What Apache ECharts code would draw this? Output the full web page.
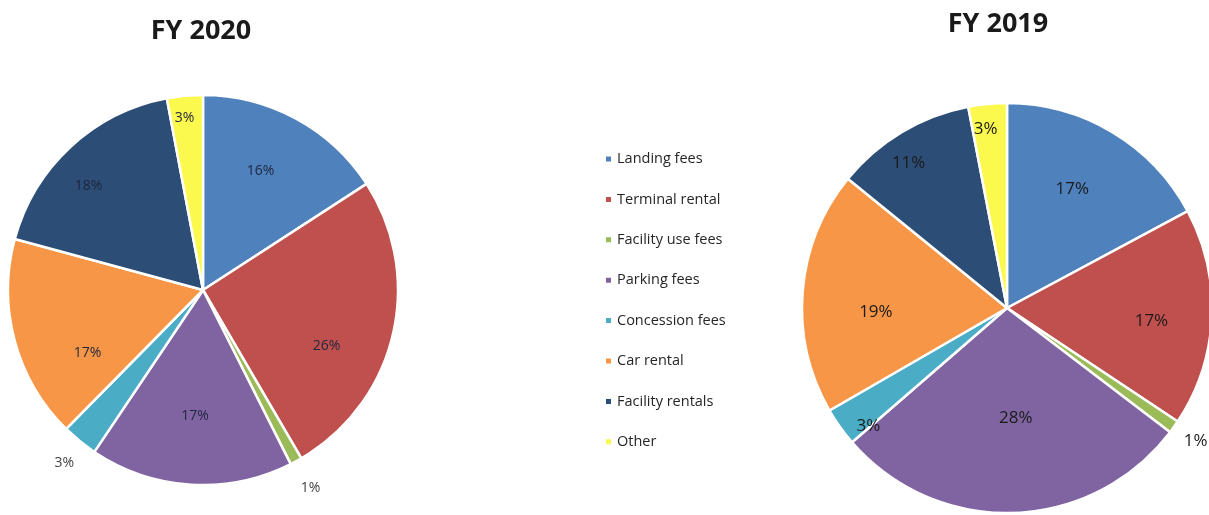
<!DOCTYPE html>
<html>
<head>
<meta charset="utf-8">
<script src="https://cdn.jsdelivr.net/npm/echarts@6/dist/echarts.min.js"></script>
<style>
  html, body { margin: 0; padding: 0; background: #fff; }
  #chart { width: 1209px; height: 515px; }
</style>
</head>
<body>
<div id="chart"></div>
<script>
// Revenue mix by source, two fiscal years
const categories = ['Landing fees', 'Terminal rental', 'Facility use fees', 'Parking fees',
                    'Concession fees', 'Car rental', 'Facility rentals', 'Other'];
const fy2020 = [16, 26, 1, 17, 3, 17, 18, 3];
const fy2019 = [17, 17, 1, 28, 3, 19, 11, 3];
const titles = ['FY 2020', 'FY 2019'];

const colors = ['#4F81BD', '#C0504D', '#9BBB59', '#8064A2', '#4BACC6', '#F79646', '#2C4D75', '#FBF84E'];
const FONT = '"Open Sans", "Liberation Sans", sans-serif';

// Pie geometry and label styling
const pies = [
  { center: [203, 290], radius: 195, values: fy2020, labelColor: '#1f2640', outerColor: '#444', fontSize: 14,
    // fine placement of each percentage label (px shift from the label ring)
    shift: [[-11, 7], [-16, 23], [39, 72], [1, -17], [-48, 62], [23, 26], [-17, 1], [-5, -29]],
    outside: [false, false, true, false, true, false, false, false] },
  { center: [1007, 308], radius: 205, values: fy2019, labelColor: '#1a1a1a', outerColor: '#1a1a1a', fontSize: 17,
    shift: [[-12, 10], [-6, 6], [66, 46], [4, -40], [-16, 31], [19, 16], [-21, -16], [-7, -29]],
    outside: [false, false, true, false, false, false, false, false] }
];

const series = [];
pies.forEach(p => {
  // the slices
  series.push({
    type: 'pie',
    center: p.center,
    radius: p.radius,
    startAngle: 90,
    clockwise: true,
    silent: true,
    avoidLabelOverlap: false,
    label: { show: false },
    labelLine: { show: false },
    itemStyle: { borderColor: '#fff', borderWidth: 2.5 },
    data: categories.map((name, i) => ({ name, value: p.values[i], itemStyle: { color: colors[i] } }))
  });
  // percentage labels, placed on a ring at ~72% of the radius
  series.push({
    type: 'pie',
    center: p.center,
    radius: [p.radius * 0.44, p.radius],
    startAngle: 90,
    clockwise: true,
    silent: true,
    avoidLabelOverlap: false,
    labelLine: { show: false },
    itemStyle: { color: 'rgba(0,0,0,0)', borderWidth: 0 },
    label: {
      show: true,
      position: 'inside',
      fontFamily: FONT,
      fontSize: p.fontSize,
      color: p.labelColor,
      formatter: d => d.value + '%'
    },
    data: categories.map((name, i) => ({
      name: name + ' ',
      value: p.values[i],
      label: { offset: p.shift[i], color: p.outside[i] ? p.outerColor : p.labelColor }
    }))
  });
});

const chart = echarts.init(document.getElementById('chart'), null, { renderer: 'canvas' });
chart.setOption({
  backgroundColor: '#fff',
  animation: false,
  color: colors,
  title: [
    { text: titles[0], left: 201, top: 31, padding: 0, textAlign: 'center', textVerticalAlign: 'middle',
      textStyle: { fontFamily: FONT, fontWeight: 'bold', fontSize: 27, color: '#1a1a1a' } },
    { text: titles[1], left: 998, top: 24, padding: 0, textAlign: 'center', textVerticalAlign: 'middle',
      textStyle: { fontFamily: FONT, fontWeight: 'bold', fontSize: 27, color: '#1a1a1a' } }
  ],
  legend: {
    orient: 'vertical',
    left: 604,
    top: 151,
    padding: 0,
    itemWidth: 7,
    itemHeight: 7,
    itemGap: 24.4,
    icon: 'rect',
    selectedMode: false,
    data: categories,
    textStyle: { fontFamily: FONT, fontSize: 14.5, color: '#262626', lineHeight: 16 }
  },
  series
});
</script>
</body>
</html>
